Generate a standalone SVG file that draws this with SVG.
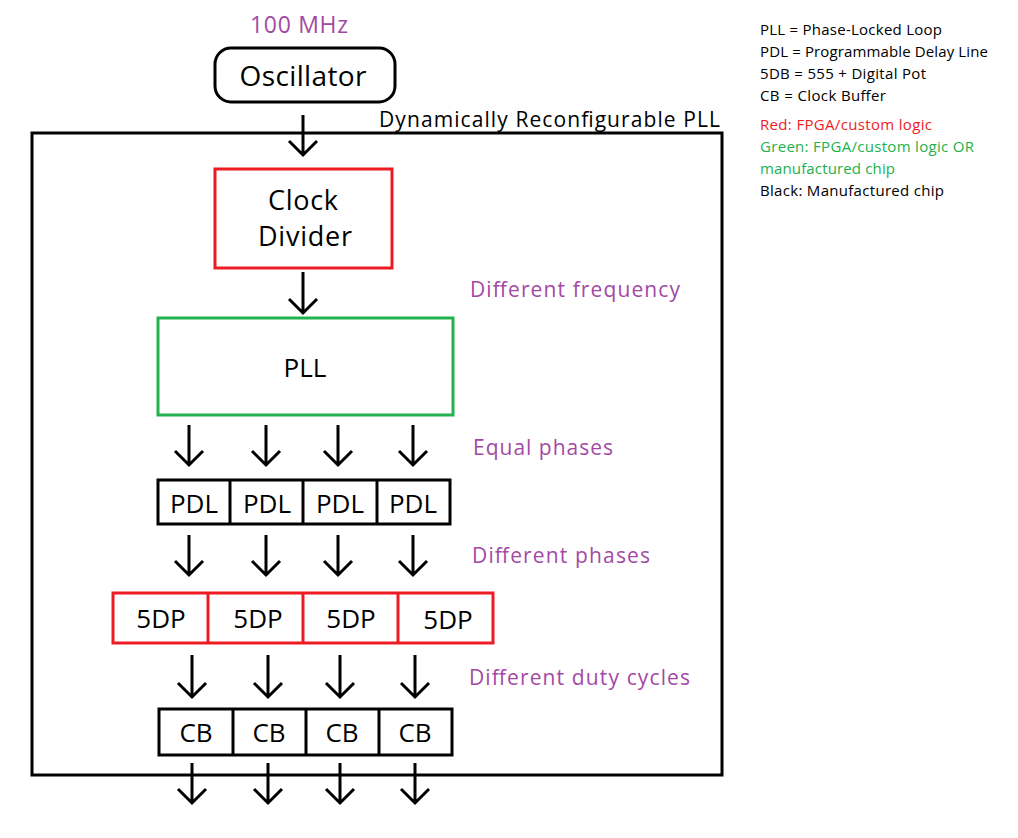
<svg xmlns="http://www.w3.org/2000/svg" width="1018" height="838" viewBox="0 0 1018 838">
<defs>
<style>
text{font-family:"Open Sans","Liberation Sans",sans-serif;}
.big{font-size:26px;fill:#000;}
.lab{font-size:21px;fill:#a349a4;}
.leg{font-size:15px;}
.blk{fill:none;stroke:#000;stroke-width:3;}
.red{fill:none;stroke:#ed1c24;stroke-width:3;}
.grn{fill:none;stroke:#22b14c;stroke-width:3;}
.arr{fill:none;stroke:#000;stroke-width:3;}
</style>
</defs>
<rect width="1018" height="838" fill="#fff"/>
<text x="299" y="33" class="lab" text-anchor="middle" style="font-size:23px" textLength="98">100 MHz</text>
<g id="oscillator">
<rect x="215" y="48" width="180" height="54" rx="16" class="blk"/>
<text x="303" y="86" class="big" text-anchor="middle" style="font-size:28px" textLength="127">Oscillator</text>
</g>
<g id="frame">
<rect x="32" y="133" width="690" height="642" class="blk"/>
<text x="379" y="127" class="lab" style="fill:#000" textLength="341">Dynamically Reconfigurable PLL</text>
</g>
<g id="clockdivider">
<rect x="215" y="169" width="177" height="99" class="red"/>
<text x="303" y="210" class="big" text-anchor="middle" style="font-size:27px" textLength="70">Clock</text>
<text x="305" y="246" class="big" text-anchor="middle" style="font-size:27px" textLength="94">Divider</text>
</g>
<g id="pll">
<rect x="158" y="318" width="295" height="97" class="grn"/>
<text x="305" y="377" class="big" text-anchor="middle">PLL</text>
</g>
<g id="pdl">
<rect x="158" y="480" width="292" height="44" class="blk"/>
<line x1="230" y1="480" x2="230" y2="524" class="blk"/>
<line x1="303" y1="480" x2="303" y2="524" class="blk"/>
<line x1="377" y1="480" x2="377" y2="524" class="blk"/>
<text x="194" y="513" class="big" text-anchor="middle">PDL</text>
<text x="267" y="513" class="big" text-anchor="middle">PDL</text>
<text x="340" y="513" class="big" text-anchor="middle">PDL</text>
<text x="413" y="513" class="big" text-anchor="middle">PDL</text>
</g>
<g id="fivedp">
<rect x="113" y="593" width="380" height="50" class="red"/>
<line x1="208" y1="593" x2="208" y2="643" class="red"/>
<line x1="303" y1="593" x2="303" y2="643" class="red"/>
<line x1="398" y1="593" x2="398" y2="643" class="red"/>
<text x="161" y="628" class="big" text-anchor="middle">5DP</text>
<text x="258" y="628" class="big" text-anchor="middle">5DP</text>
<text x="351" y="628" class="big" text-anchor="middle">5DP</text>
<text x="448" y="629" class="big" text-anchor="middle">5DP</text>
</g>
<g id="cb">
<rect x="159" y="709" width="293" height="46" class="blk"/>
<line x1="233" y1="709" x2="233" y2="755" class="blk"/>
<line x1="306" y1="709" x2="306" y2="755" class="blk"/>
<line x1="379" y1="709" x2="379" y2="755" class="blk"/>
<text x="196" y="742" class="big" text-anchor="middle">CB</text>
<text x="269" y="742" class="big" text-anchor="middle">CB</text>
<text x="342" y="742" class="big" text-anchor="middle">CB</text>
<text x="415" y="742" class="big" text-anchor="middle">CB</text>
</g>
<g id="labels">
<text x="470" y="297" class="lab" textLength="210">Different frequency</text>
<text x="473" y="455" class="lab" textLength="140">Equal phases</text>
<text x="472" y="563" class="lab" textLength="178">Different phases</text>
<text x="469" y="685" class="lab" textLength="221">Different duty cycles</text>
</g>
<g id="legend" class="leg">
<text x="760" y="35" textLength="182">PLL = Phase-Locked Loop</text>
<text x="760" y="57" textLength="228">PDL = Programmable Delay Line</text>
<text x="760" y="79" textLength="166">5DB = 555 + Digital Pot</text>
<text x="760" y="101" textLength="126">CB = Clock Buffer</text>
<text x="760" y="130" fill="#ed1c24" textLength="172">Red: FPGA/custom logic</text>
<text x="760" y="152" fill="#22b14c" textLength="214">Green: FPGA/custom logic OR</text>
<text x="760" y="174" fill="#22b14c" textLength="135">manufactured chip</text>
<text x="760" y="196" textLength="184">Black: Manufactured chip</text>
</g>
<g id="connectors" class="arr">
<path d="M303 115V155M289 141L303 155L317 141"/>
<path d="M303 272V313M289 299L303 313L317 299"/>
<path d="M189 425V465M175 451L189 465L203 451"/>
<path d="M266 425V465M252 451L266 465L280 451"/>
<path d="M338 425V465M324 451L338 465L352 451"/>
<path d="M413 425V465M399 451L413 465L427 451"/>
<path d="M189 535V575M175 561L189 575L203 561"/>
<path d="M266 535V575M252 561L266 575L280 561"/>
<path d="M338 535V575M324 561L338 575L352 561"/>
<path d="M413 535V575M399 561L413 575L427 561"/>
<path d="M192 655V697M178 683L192 697L206 683"/>
<path d="M268 655V697M254 683L268 697L282 683"/>
<path d="M340 655V697M326 683L340 697L354 683"/>
<path d="M415 655V697M401 683L415 697L429 683"/>
<path d="M192 763V803M178 789L192 803L206 789"/>
<path d="M268 763V803M254 789L268 803L282 789"/>
<path d="M340 763V803M326 789L340 803L354 789"/>
<path d="M415 763V803M401 789L415 803L429 789"/>
</g>
</svg>
